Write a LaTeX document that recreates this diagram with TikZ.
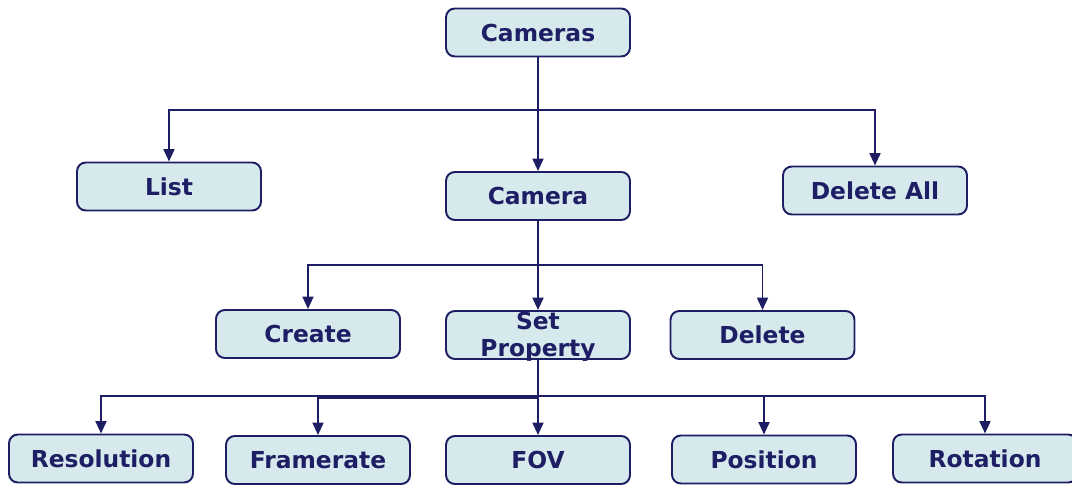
\documentclass[tikz,border=0pt]{standalone}
\usepackage{fontspec}
\setmainfont{DejaVu Sans}
\usetikzlibrary{arrows.meta}
\definecolor{navy}{RGB}{30,30,100}
\definecolor{boxfill}{RGB}{214,233,236}
\begin{document}
\begin{tikzpicture}[x=0.02cm,y=-0.02cm,
  box/.style={draw=navy,line width=1.1pt,fill=boxfill,rounded corners=5pt,
    minimum width=3.68cm,minimum height=0.96cm,inner sep=0pt,
    text=navy,font=\bfseries\fontsize{13.3}{15}\selectfont,align=center},
  link/.style={draw=navy,line width=1.1pt},
  arr/.style={link,-{Triangle[width=0.22cm,length=0.25cm]}}]
\useasboundingbox (0,0) rectangle (1072,486);

% boxes
\node[box] (cameras) at (538,32.5) {Cameras};
\node[box] (list)    at (169,186.5) {List};
\node[box] (camera)  at (538,196) {Camera};
\node[box] (delall)  at (875,190.5) {Delete All};
\node[box] (create)  at (308,334) {Create};
\node[box] (setprop) at (538,335) {};
\node[text=navy,font=\bfseries\fontsize{13.3}{15.5}\selectfont,align=center,inner sep=0pt]
  (setproptext) at (538,337) {Set\\Property};
\node[box] (delete)  at (762.5,335) {Delete};
\node[box] (res)     at (101,458.5) {Resolution};
\node[box] (frame)   at (318,460) {Framerate};
\node[box] (fov)     at (538,460) {FOV};
\node[box] (pos)     at (764,459.5) {Position};
\node[box] (rot)     at (985,458.5) {Rotation};

% branching points
\coordinate (j1) at (538,110);
\coordinate (j2) at (538,265);
\coordinate (j3) at (538,396);
\coordinate (j3b) at (538,398);

% Cameras level
\draw[arr] (cameras.south) -- (camera.north);
\draw[arr] (j1) -| (list.north);
\draw[arr] (j1) -| (delall.north);

% Camera level
\draw[arr] (camera.south) -- (setprop.north);
\draw[arr] (j2) -| (create.north);
\draw[arr] (j2) -| (delete.north);

% Set Property level
\draw[arr] (setprop.south) -- (fov.north);
\draw[arr] (j3) -| (res.north);
\draw[arr] (j3b) -| (frame.north);
\draw[arr] (j3) -| (pos.north);
\draw[arr] (j3) -| (rot.north);
\end{tikzpicture}
\end{document}
